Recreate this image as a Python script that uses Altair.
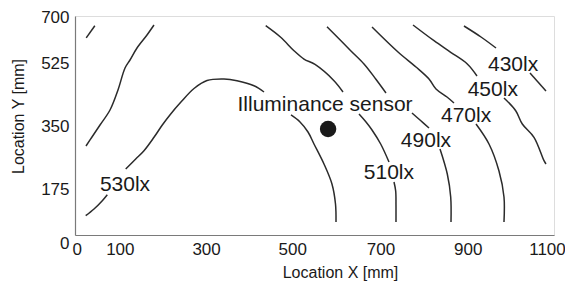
import altair as alt
import pandas as pd

# ---- contour lines (x in mm, y in mm, segment id) ----
c_corner_x = [22, 42]
c_corner_y = [630, 669]
c_corner_seg = [1, 1]

c_left_x = [21.5, 35.4, 54, 77.2, 95.7, 112, 123.6, 139.8, 163, 179.2]
c_left_y = [284.5, 313.2, 351.6, 399.5, 463.5, 533.8, 559.4, 597.7, 639.3, 671.2]
c_left_seg = [1, 1, 1, 1, 1, 1, 1, 1, 1, 1]

c530_x = [20.8, 40.1, 59.3, 70.9,
          113.6, 136.8, 156, 179.2, 198.5, 218, 241.2, 272, 302.2, 341.6, 371.7, 411.2, 434.4,
          497, 517.9, 536.4, 550.3, 573.5, 592, 600.2, 601.4]
c530_y = [61.7, 83.1, 109.6, 128.8,
          211, 242.9, 269.4, 312.3, 351.6, 386.8, 424.1, 468.3, 493.8, 498.6, 493.2, 477.2, 457.1,
          383.6, 361.2, 329.2, 290.9, 226.9, 163, 99.1, 41.6]
c530_seg = [1, 1, 1, 1,
            2, 2, 2, 2, 2, 2, 2, 2, 2, 2, 2, 2, 2,
            3, 3, 3, 3, 3, 3, 3, 3]

c510_x = [438.3, 473.1, 503.9, 527.1, 552.7, 596.7, 617.6,
          654.7, 671, 684.9, 705, 724.3,
          735.9, 739.8, 740.5, 740.5]
c510_y = [669, 631.9, 589.1, 562.5, 545, 493.2, 457.1,
          386.7, 361.2, 335.6, 290.9, 233.3,
          169.4, 140.6, 95.9, 41.6]
c510_seg = [1, 1, 1, 1, 1, 1, 1,
            2, 2, 2, 2, 2,
            3, 3, 3, 3]

c490_x = [580.5, 635.5, 666.3, 693.5, 717.3,
          777.6, 796.2, 817.1,
          842.6, 859.5, 867.4, 868.1]
c490_y = [665.8, 589.1, 546.6, 498.6, 453.9,
          390, 367.6, 342,
          274.9, 195, 121.5, 41.6]
c490_seg = [1, 1, 1, 1, 1,
            2, 2, 2,
            3, 3, 3, 3]

c470_x = [684.9, 745.2, 786.9, 817.1, 833.3, 858.8, 875,
          926.1, 956.2, 979.4, 991, 991]
c470_y = [664.8, 584.9, 537, 498.6, 466.7, 441.1, 421.9,
          354.8, 290.9, 204.6, 121.5, 41.6]
c470_seg = [1, 1, 1, 1, 1, 1, 1,
            2, 2, 2, 2, 2]

c450_x = [780, 828.7, 867.4, 905.9, 928.4,
          991, 1018.2, 1033.5, 1060.6, 1083.8, 1088.4]
c450_y = [671.2, 621, 584, 546.6, 508.2,
          437.9, 397.3, 354.8, 312.3, 237.5, 226.9]
c450_seg = [1, 1, 1, 1, 1,
            2, 2, 2, 2, 2, 2]

c430_x = [898.2, 937.7, 972.5,
          1051.3, 1088.4]
c430_y = [668, 632.9, 597.7,
          517.8, 460.3]
c430_seg = [1, 1, 1,
            2, 2]

# ---- labels ----
label_text = ["530lx", "510lx", "490lx", "470lx", "450lx", "430lx"]
label_x = [112, 724, 810, 903, 965, 1012]
label_y = [142, 179, 281, 361, 444, 524]

sensor_x = [583]
sensor_y = [339]
sensor_label = ["Illuminance sensor"]
sensor_label_x = [576]
sensor_label_y = [395]

x_ticks = [0, 100, 300, 500, 700, 900, 1100]
y_ticks = [0, 175, 350, 525, 700]

contours = {
    "corner": (c_corner_x, c_corner_y, c_corner_seg),
    "left": (c_left_x, c_left_y, c_left_seg),
    "530": (c530_x, c530_y, c530_seg),
    "510": (c510_x, c510_y, c510_seg),
    "490": (c490_x, c490_y, c490_seg),
    "470": (c470_x, c470_y, c470_seg),
    "450": (c450_x, c450_y, c450_seg),
    "430": (c430_x, c430_y, c430_seg),
}
rows = []
for name, (xs_, ys_, segs) in contours.items():
    for i, (xv, yv, s) in enumerate(zip(xs_, ys_, segs)):
        rows.append({"x": xv, "y": yv, "seg": f"{name}-{s}", "i": i})
lines_df = pd.DataFrame(rows)

labels_df = pd.DataFrame({"x": label_x, "y": label_y, "t": label_text})
sensor_df = pd.DataFrame({"x": sensor_x, "y": sensor_y})
sensor_lab_df = pd.DataFrame({"x": sensor_label_x, "y": sensor_label_y, "t": sensor_label})

FONT = "Liberation Sans"
xs = alt.Scale(domain=[-4, 1107], nice=False, zero=False)
ys = alt.Scale(domain=[0, 700], nice=False, zero=False)

x_axis = alt.Axis(
    values=x_ticks, format="d", title="Location X [mm]", grid=False, ticks=False,
    domainColor="#7a7a7a", domainWidth=1.2,
    labelFont=FONT, labelFontSize=17, labelColor="#1a1a1a", labelPadding=6,
    labelFlush=False,
    labelOffset={"condition": [
        {"test": "datum.value == 700", "value": 2},
        {"test": "datum.value == 900", "value": 3},
        {"test": "datum.value == 1100", "value": -4},
    ], "value": 0},
    titleFont=FONT, titleFontSize=16, titleFontWeight="normal", titleColor="#1a1a1a",
    titleX=265, titleY=42, titleBaseline="alphabetic", titleAlign="center",
)
y_axis = alt.Axis(
    values=y_ticks, format="d", title="Location Y [mm]", grid=False, ticks=False,
    domainColor="#7a7a7a", domainWidth=1.2,
    labelFont=FONT, labelFontSize=17, labelColor="#1a1a1a", labelPadding=6,
    labelFlush=False,
    labelOffset={"condition": [
        {"test": "datum.value == 525", "value": -7},
        {"test": "datum.value == 175", "value": 9},
        {"test": "datum.value == 0", "value": 8},
    ], "value": 1},
    titleFont=FONT, titleFontSize=16, titleFontWeight="normal", titleColor="#1a1a1a",
    titleAngle=270, titleX=-52, titleY=100, titleBaseline="alphabetic", titleAlign="center",
)

lines = alt.Chart(lines_df).mark_line(
    color="#2b2b2b", strokeWidth=1.5, interpolate="catmull-rom"
).encode(
    x=alt.X("x:Q", scale=xs, axis=x_axis),
    y=alt.Y("y:Q", scale=ys, axis=y_axis),
    detail="seg:N",
    order="i:Q",
)

labels = alt.Chart(labels_df).mark_text(
    font=FONT, fontSize=21, color="#1a1a1a", align="center", baseline="alphabetic"
).encode(x=alt.X("x:Q", scale=xs), y=alt.Y("y:Q", scale=ys), text="t:N")

dot = alt.Chart(sensor_df).mark_point(
    filled=True, shape="circle", size=270, color="#1a1a1a", opacity=1
).encode(x=alt.X("x:Q", scale=xs), y=alt.Y("y:Q", scale=ys))

sensor_text = alt.Chart(sensor_lab_df).mark_text(
    font=FONT, fontSize=21, color="#1a1a1a", align="center", baseline="alphabetic"
).encode(x=alt.X("x:Q", scale=xs), y=alt.Y("y:Q", scale=ys), text="t:N")

chart = alt.layer(lines, labels, dot, sensor_text).properties(
    width=479, height=219,
    autosize=alt.AutoSizeParams(type="none"),
    padding={"left": 67, "top": 8, "right": 11, "bottom": 46},
).configure_view(stroke="#a8a8a8", strokeWidth=1.2).configure(background="white")

chart.save("out.html", embed_options={"renderer": "svg", "actions": False})
